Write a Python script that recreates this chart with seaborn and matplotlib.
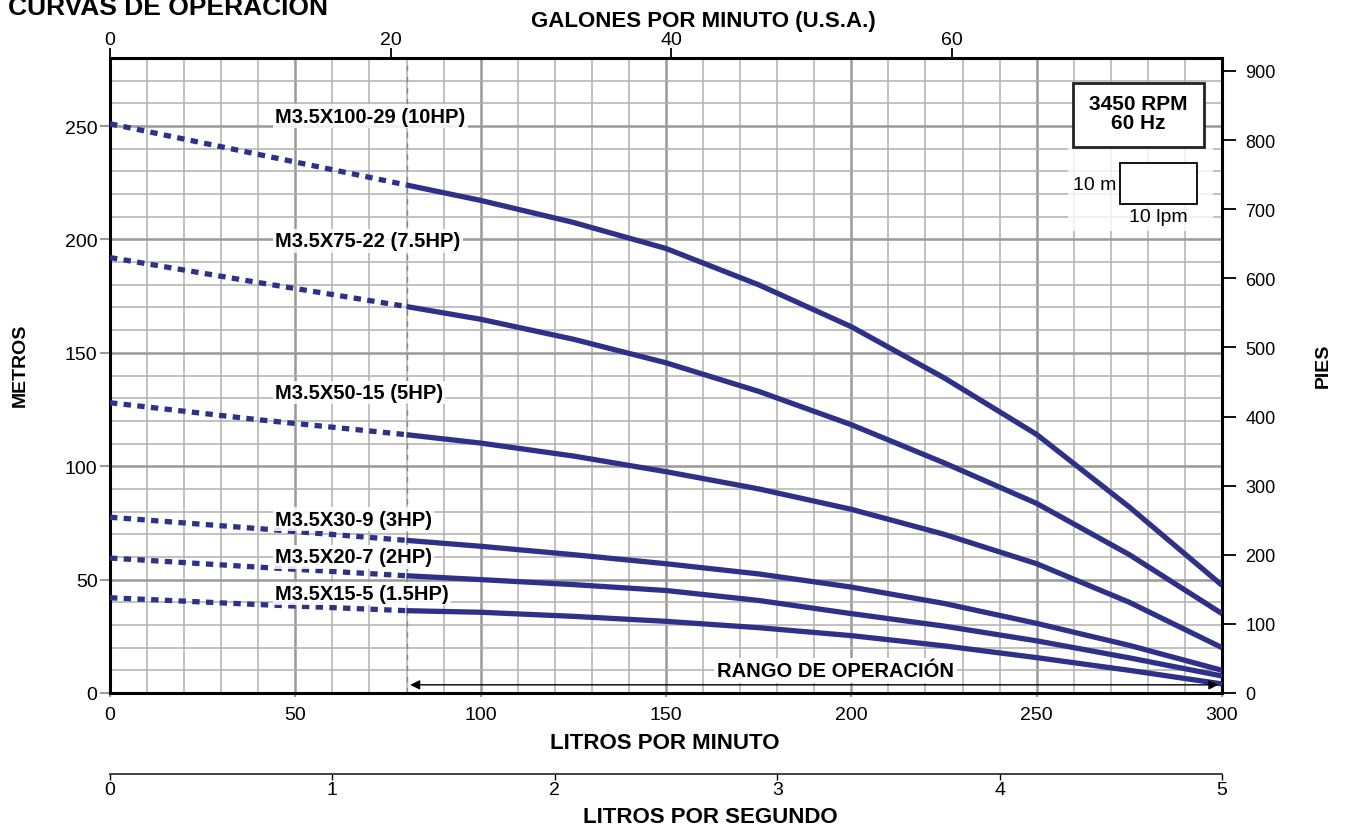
import matplotlib
matplotlib.use("Agg")
import matplotlib.pyplot as plt
from matplotlib.patches import Rectangle
from matplotlib.ticker import MultipleLocator
import numpy as np
import pandas as pd
import seaborn as sns

# flow in litres per minute, head in metres
flow_lpm = [0, 40, 80, 100, 125, 150, 175, 200, 225, 250, 275, 300]
head_10hp = [251, 237.5, 224, 217.2, 207.5, 196, 180, 161.5, 139, 114, 82, 47.5]
head_7_5hp = [192, 181, 170.4, 164.8, 156, 145.6, 133, 118.3, 101.5, 83.6, 61, 35]
head_5hp = [128, 120.5, 113.9, 110.2, 104.5, 97.6, 90, 81, 70, 57, 40, 20]
head_3hp = [77.5, 72.5, 67.3, 64.7, 61, 57, 52.5, 46.7, 39.5, 30.7, 21, 10]
head_2hp = [59.5, 55.5, 51.7, 50, 47.8, 45.2, 40.8, 35, 29.5, 23, 15.5, 7.5]
head_1_5hp = [42, 39, 36.3, 35.6, 33.8, 31.6, 28.8, 25.3, 20.8, 15.6, 10, 4]

models = ["M3.5X100-29 (10HP)", "M3.5X75-22 (7.5HP)", "M3.5X50-15 (5HP)",
          "M3.5X30-9 (3HP)", "M3.5X20-7 (2HP)", "M3.5X15-5 (1.5HP)"]
heads = [head_10hp, head_7_5hp, head_5hp, head_3hp, head_2hp, head_1_5hp]

operating_min = 80   # lpm, start of the operating range
operating_max = 300

LPM_PER_GPM = 3.785
M_PER_FT = 0.3048

rows = []
for name, h in zip(models, heads):
    for q, v in zip(flow_lpm, h):
        rows.append({"model": name, "flow": q, "head": v})
df = pd.DataFrame(rows)

sns.set_theme(style="white")
plt.rcParams["font.family"] = ["Liberation Sans", "DejaVu Sans"]
plt.rcParams["text.color"] = "black"
plt.rcParams["xtick.labelcolor"] = "black"
plt.rcParams["ytick.labelcolor"] = "black"

fig = plt.figure(figsize=(13.46, 8.29), dpi=100)
W, H = 1346, 829
ax = fig.add_axes([110 / W, 1 - 694 / H, 1112 / W, 635 / H])

curve_color = "#2e3188"
for name in models:
    sub = df[df["model"] == name]
    dotted = sub[sub["flow"] <= operating_min]
    solid = sub[sub["flow"] >= operating_min]
    sns.lineplot(data=dotted, x="flow", y="head", ax=ax, color=curve_color,
                 lw=3.8, linestyle=(0, (1.4, 1.2)), estimator=None, zorder=3)
    sns.lineplot(data=solid, x="flow", y="head", ax=ax, color=curve_color,
                 lw=3.8, estimator=None, zorder=3, solid_capstyle="butt",
                 solid_joinstyle="round")

ax.set_xlim(0, 300)
ax.set_ylim(0, 280)

# grid: thin every 10, heavier every 50
ax.xaxis.set_minor_locator(MultipleLocator(10))
ax.yaxis.set_minor_locator(MultipleLocator(10))
ax.xaxis.set_major_locator(MultipleLocator(50))
ax.yaxis.set_major_locator(MultipleLocator(50))
ax.grid(which="minor", color="#b0b0b0", lw=1.1, zorder=0)
ax.grid(which="major", color="#999999", lw=1.8, zorder=0)
ax.set_axisbelow(True)

for sp in ax.spines.values():
    sp.set_color("black")
    sp.set_linewidth(2.2)
    sp.set_visible(True)

ax.tick_params(axis="y", which="major", left=True, direction="out", length=7,
               width=1.5, color="#999999", labelsize=14, pad=2,
               labelcolor="black")
ax.tick_params(axis="x", which="major", bottom=True, direction="out", length=3,
               width=1.5, color="#999999", labelsize=14, pad=6,
               labelcolor="black")
ax.tick_params(which="minor", length=0)
ax.set_xlabel("")
ax.set_ylabel("")

# operating range marker
ax.axvline(operating_min, color="#888888", lw=1, ls=(0, (4, 4)), zorder=1)
ax.annotate("", xy=(operating_min + 1, 3.6), xytext=(operating_max - 1, 3.6),
            arrowprops=dict(arrowstyle="<|-|>", color="black", lw=1,
                            mutation_scale=14, shrinkA=0, shrinkB=0), zorder=4)
ax.text(195.7, 10.1, "RANGO DE OPERACIÓN", ha="center", va="center",
        fontsize=14.5, fontweight="bold", color="black", zorder=5,
        bbox=dict(boxstyle="square,pad=0.15", fc="white", ec="none"))

# curve labels
label_pos = [254.3, 199.4, 132.5, 76.7, 60, 43.9]
for name, y in zip(models, label_pos):
    ax.text(44.5, y, name, ha="left", va="center", fontsize=14.5,
            fontweight="bold", color="black", zorder=5,
            bbox=dict(boxstyle="square,pad=0.12", fc="white", ec="none", alpha=0.85))

# rpm box and scale box
ax.add_patch(Rectangle((0.8615, 0.7276), 0.13, 0.13, transform=ax.transAxes,
                       fc="white", ec="none", alpha=0.8, zorder=2))
ax.add_patch(Rectangle((0.866, 0.860), 0.118, 0.101, transform=ax.transAxes,
                       fc="white", ec="#222222", lw=2, zorder=5))
ax.text(0.925, 0.929, "3450 RPM", transform=ax.transAxes, ha="center",
        va="center", fontsize=15, fontweight="bold", zorder=6)
ax.text(0.925, 0.899, "60 Hz", transform=ax.transAxes, ha="center",
        va="center", fontsize=15, fontweight="bold", zorder=6)
ax.add_patch(Rectangle((0.908, 0.770), 0.0695, 0.065, transform=ax.transAxes,
                       fc="white", ec="black", lw=1.3, zorder=5))
ax.text(0.905, 0.80, "10 m", transform=ax.transAxes, ha="right", va="center",
        fontsize=14, zorder=6)
ax.text(0.9424, 0.751, "10 lpm", transform=ax.transAxes, ha="center",
        va="center", fontsize=14, zorder=6)

# secondary scales
top = ax.secondary_xaxis("top", functions=(lambda q: q / LPM_PER_GPM,
                                          lambda g: g * LPM_PER_GPM))
top.set_xticks([0, 20, 40, 60])
top.tick_params(direction="out", length=7, width=1.3, color="black",
                labelsize=14, pad=0, labelcolor="black")

right = ax.secondary_yaxis("right", functions=(lambda m: m / M_PER_FT,
                                              lambda f: f * M_PER_FT))
right.set_yticks(np.arange(0, 901, 100))
right.tick_params(direction="out", length=10, width=1.3, color="black",
                  labelsize=13, pad=7, labelcolor="black")

# litres per second scale under the chart
lps = fig.add_axes([110 / W, 1 - 775 / H, 1112 / W, 0.0001])
lps.set_xlim(0, 5)
lps.set_yticks([])
for side in ["left", "right", "top"]:
    lps.spines[side].set_visible(False)
lps.spines["bottom"].set_linewidth(1.3)
lps.spines["bottom"].set_color("#333333")
lps.set_xticks([0, 1, 2, 3, 4, 5])
lps.tick_params(axis="x", direction="out", length=4, width=1, color="black",
                labelsize=14, pad=1, bottom=True, labelcolor="black")
lps.patch.set_visible(False)

# axis titles
fig.text(8 / W, 1 - 15 / H, "CURVAS DE OPERACIÓN", fontsize=19,
         fontweight="bold", ha="left", va="baseline")
fig.text(703 / W, 1 - 21 / H, "GALONES POR MINUTO (U.S.A.)", fontsize=16,
         fontweight="bold", ha="center", va="center")
fig.text(665 / W, 1 - 744 / H, "LITROS POR MINUTO", fontsize=16,
         fontweight="bold", ha="center", va="center")
fig.text(710 / W, 1 - 818 / H, "LITROS POR SEGUNDO", fontsize=16,
         fontweight="bold", ha="center", va="center")
fig.text(20 / W, 1 - 365 / H, "METROS", fontsize=14, fontweight="bold",
         rotation=90, ha="center", va="center")
fig.text(1323 / W, 1 - 366 / H, "PIES", fontsize=14, fontweight="bold",
         rotation=90, ha="center", va="center")

fig.savefig("out.png", dpi=100, facecolor="white")
